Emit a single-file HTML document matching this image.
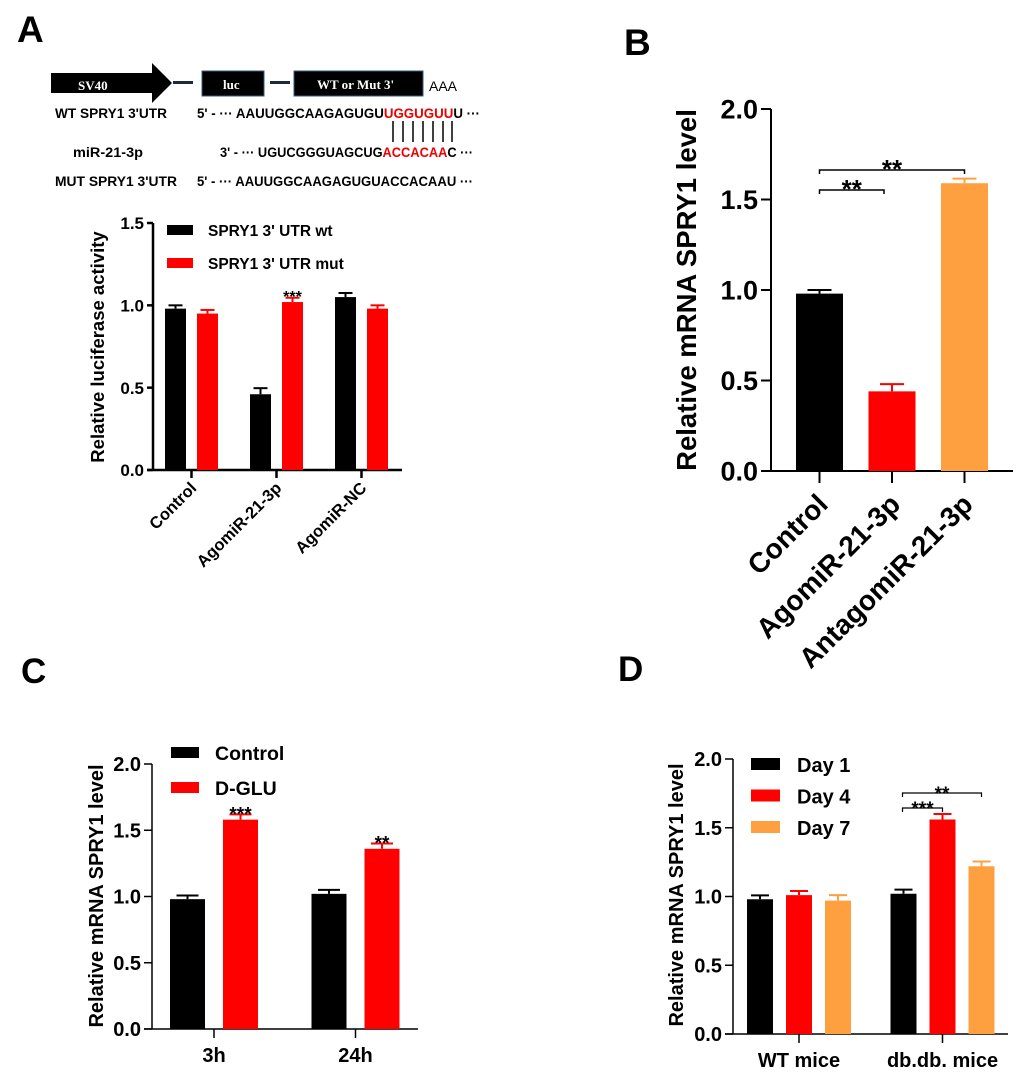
<!DOCTYPE html>
<html><head><meta charset="utf-8">
<style>
html,body{margin:0;padding:0;background:#fff;}
svg{display:block;font-family:"Liberation Sans",Arial,sans-serif;}
text{font-weight:bold;}
</style></head>
<body>
<svg id="fig" width="1020" height="1073" viewBox="0 0 1020 1073" xmlns="http://www.w3.org/2000/svg">
  <text x="17" y="42" font-size="37">A</text>
  <text x="624" y="55" font-size="37">B</text>
  <text x="21" y="683" font-size="35">C</text>
  <text x="618" y="681" font-size="35">D</text>

  <g>
    <polygon points="51,73 152,73 152,63 172,83 152,103 152,93 51,93" fill="#000"/>
    <text x="78" y="90" font-size="13" fill="#fff" font-family="Liberation Serif,serif">SV40</text>
    <rect x="173" y="81" width="20" height="3" fill="#1a2a3a"/>
    <rect x="202" y="71" width="62" height="25" fill="#000" stroke="#3a5a7a"/>
    <text x="223" y="89" font-size="13" fill="#fff" font-family="Liberation Serif,serif">luc</text>
    <rect x="270" y="81" width="20" height="3" fill="#1a2a3a"/>
    <rect x="294" y="71" width="129" height="25" fill="#000" stroke="#3a5a7a"/>
    <text x="317" y="89" font-size="13" fill="#fff" font-family="Liberation Serif,serif">WT or Mut 3'</text>
    <text x="429" y="91" font-size="14" style="font-weight:normal">AAA</text>
    <text x="55" y="118" font-size="13.5" textLength="112" lengthAdjust="spacingAndGlyphs">WT SPRY1 3'UTR</text>
    <text x="197" y="118" font-size="13.5" textLength="283" lengthAdjust="spacingAndGlyphs">5' - ··· AAUUGGCAAGAGUGU<tspan fill="#e00">UGGUGUU</tspan>U ···</text>
    <g stroke="#000" stroke-width="1.5">
      <line x1="393" y1="121" x2="393" y2="142"/><line x1="403" y1="121" x2="403" y2="142"/>
      <line x1="413" y1="121" x2="413" y2="142"/><line x1="423" y1="121" x2="423" y2="142"/>
      <line x1="433" y1="121" x2="433" y2="142"/><line x1="443" y1="121" x2="443" y2="142"/>
      <line x1="452" y1="121" x2="452" y2="142"/>
    </g>
    <text x="73" y="157" font-size="13.5" textLength="70" lengthAdjust="spacingAndGlyphs">miR-21-3p</text>
    <text x="220" y="157" font-size="13.5" textLength="253" lengthAdjust="spacingAndGlyphs">3' - ··· UGUCGGGUAGCUG<tspan fill="#e00">ACCACAA</tspan>C ···</text>
    <text x="55" y="186" font-size="13.5" textLength="122" lengthAdjust="spacingAndGlyphs">MUT SPRY1 3'UTR</text>
    <text x="197" y="186" font-size="13.5" textLength="276" lengthAdjust="spacingAndGlyphs">5' - ··· AAUUGGCAAGAGUGUACCACAAU ···</text>
  </g>
  <g id="charts"></g>
</svg>
<script>
// ---- Panel A data ----
const aCategories = ["Control", "AgomiR-21-3p", "AgomiR-NC"];
const aSeries = ["SPRY1 3' UTR wt", "SPRY1 3' UTR mut"];
const aWt = [0.98, 0.46, 1.05];
const aWtErr = [0.02, 0.037, 0.025];
const aMut = [0.95, 1.02, 0.98];
const aMutErr = [0.022, 0.026, 0.02];
const aTicks = [0, 0.5, 1.0, 1.5];
const aStars = ["", "***", ""];
// ---- Panel B data ----
const bCategories = ["Control", "AgomiR-21-3p", "AntagomiR-21-3p"];
const bValues = [0.98, 0.44, 1.59];
const bErr = [0.02, 0.04, 0.025];
const bTicks = [0, 0.5, 1.0, 1.5, 2.0];
// ---- Panel C data ----
const cCategories = ["3h", "24h"];
const cSeries = ["Control", "D-GLU"];
const cControl = [0.98, 1.02];
const cControlErr = [0.028, 0.03];
const cDglu = [1.58, 1.36];
const cDgluErr = [0.04, 0.04];
const cTicks = [0, 0.5, 1.0, 1.5, 2.0];
const cStars = ["***", "**"];
// ---- Panel D data ----
const dCategories = ["WT mice", "db.db. mice"];
const dSeries = ["Day 1", "Day 4", "Day 7"];
const dDay1 = [0.98, 1.02];
const dDay1Err = [0.028, 0.03];
const dDay4 = [1.01, 1.56];
const dDay4Err = [0.03, 0.04];
const dDay7 = [0.97, 1.22];
const dDay7Err = [0.04, 0.035];
const dTicks = [0, 0.5, 1.0, 1.5, 2.0];

const NS = "http://www.w3.org/2000/svg";
const root = document.getElementById("charts");
function mk(tag, attrs, parent, txt) {
  const e = document.createElementNS(NS, tag);
  for (const k in attrs) e.setAttribute(k, attrs[k]);
  if (txt !== undefined) e.textContent = txt;
  (parent || root).appendChild(e);
  return e;
}
function yScale(y0, yTop, vmax) { return v => y0 - (v / vmax) * (y0 - yTop); }

function axes(g, ax, y0, yTop, xEnd, ticks, vmax, fs, tickLen, sw, prefix) {
  const ys = yScale(y0, yTop, vmax);
  const yl = mk("line", {x1: ax, y1: y0, x2: ax, y2: yTop, stroke: "#000", "stroke-width": sw}, g);
  
  
  const xl = mk("line", {x1: ax - tickLen, y1: y0, x2: xEnd, y2: y0, stroke: "#000", "stroke-width": sw}, g);
  
  
  ticks.forEach(t => {
    const y = ys(t);
    const tl = mk("line", {x1: ax - tickLen, y1: y, x2: ax, y2: y, stroke: "#000", "stroke-width": sw}, g);
    
    
    const tx = mk("text", {x: ax - tickLen - 3, y: y + fs * 0.36, "font-size": fs, "text-anchor": "end"}, g, t.toFixed(1));
    
    
  });
  return ys;
}
function bar(g, x, w, v, err, ys, color, capW, sw, prefix) {
  const y0 = ys(0), yv = ys(v), ye = ys(v + err);
  const cx = x + w / 2;
  const el = mk("line", {x1: cx, y1: yv, x2: cx, y2: ye, stroke: color, "stroke-width": sw}, g);
  
  
  const cap = mk("line", {x1: cx - capW / 2, y1: ye, x2: cx + capW / 2, y2: ye, stroke: color, "stroke-width": sw}, g);
  
  
  const r = mk("rect", {x: x, y: yv, width: w, height: y0 - yv, fill: color}, g);
  
  
  return ye;
}

// ===== Panel A =====
(function(){
  const g = mk("g", {});
  
  
  const ys = axes(g, 153, 470, 223, 402, aTicks, 1.5, 17, 6, 2.5, "a");
  const groupStart = 165, groupStep = 85, bw = 21, gap = 32;
  const colors = ["#000", "#ff0000"];
  aCategories.forEach((c, i) => {
    const x0 = groupStart + i * groupStep;
    bar(g, x0, bw, aWt[i], aWtErr[i], ys, colors[0], 14, 2, "a-wt");
    const top = bar(g, x0 + gap, bw, aMut[i], aMutErr[i], ys, colors[1], 14, 2, "a-mut");
    if (aStars[i]) {
      const s = mk("text", {x: x0 + gap + bw / 2, y: top + 4, "font-size": 16, "text-anchor": "middle"}, g, aStars[i]);
      
      
    }
    const tk = x0 + (gap + bw) / 2;
    const tl = mk("line", {x1: tk, y1: 470, x2: tk, y2: 478, stroke: "#000", "stroke-width": 2.5}, g);
    
    
    const lx = tk + 6, ly = 489;
    const lab = mk("text", {x: lx, y: ly, "font-size": 16.5, "text-anchor": "end", transform: `rotate(-45 ${lx} ${ly})`}, g, c);
    
    
  });
  const yt = mk("text", {x: 0, y: 0, "font-size": 18.5, "text-anchor": "middle", transform: "translate(104 347) rotate(-90)"}, g, "Relative luciferase activity");
  
  
  aSeries.forEach((s, i) => {
    const r = mk("rect", {x: 167, y: 225 + i * 33, width: 26, height: 10, fill: colors[i]}, g);
    
    
    const t = mk("text", {x: 208, y: 236 + i * 33, "font-size": 15.5}, g, s);
    
    
  });
})();

// ===== Panel B =====
(function(){
  const g = mk("g", {});
  
  
  const ys = axes(g, 771, 471, 109, 1013, bTicks, 2.0, 27, 10, 2, "b");
  const colors = ["#000", "#ff0000", "#ffa040"];
  const start = 796, step = 72.5, bw = 47;
  const tickX = [];
  bCategories.forEach((c, i) => {
    const x = start + i * step;
    bar(g, x, bw, bValues[i], bErr[i], ys, colors[i], 24, 2, "b");
    const tk = x + bw / 2;
    tickX.push(tk);
    const tl = mk("line", {x1: tk, y1: 471, x2: tk, y2: 483, stroke: "#000", "stroke-width": 2}, g);
    
    
    const lx = tk + 10, ly = 506;
    const lab = mk("text", {x: lx, y: ly, "font-size": 28, "text-anchor": "end", transform: `rotate(-45 ${lx} ${ly})`}, g, c);
    
    
  });
  function bracket(x1, x2, y, label) {
    const p = mk("path", {d: `M${x1} ${y + 4} V${y} H${x2} V${y + 4}`, fill: "none", stroke: "#000", "stroke-width": 1.5}, g);
    
    
    const t = mk("text", {x: (x1 + x2) / 2, y: y + 8, "font-size": 26, "text-anchor": "middle"}, g, label);
    
    
  }
  bracket(tickX[0], 884, 190, "**");
  bracket(tickX[0], tickX[2], 170, "**");
  const yt = mk("text", {x: 0, y: 0, "font-size": 27.5, "text-anchor": "middle", transform: "translate(696 290) rotate(-90)"}, g, "Relative mRNA SPRY1 level");
  
  
})();

// ===== Panel C =====
(function(){
  const g = mk("g", {});
  
  
  const ys = axes(g, 152, 1029, 764, 418, cTicks, 2.0, 20, 8, 1.5, "c");
  const colors = ["#000", "#ff0000"];
  const start = 170, step = 141.5, bw = 35, gap = 53;
  cCategories.forEach((c, i) => {
    const x0 = start + i * step;
    bar(g, x0, bw, cControl[i], cControlErr[i], ys, colors[0], 22, 2, "c-control");
    const top = bar(g, x0 + gap, bw, cDglu[i], cDgluErr[i], ys, colors[1], 22, 2, "c-dglu");
    const s = mk("text", {x: x0 + gap + bw / 2, y: top + 6, "font-size": 19, "text-anchor": "middle"}, g, cStars[i]);
    
    
    const tk = x0 + (gap + bw) / 2;
    const tl = mk("line", {x1: tk, y1: 1029, x2: tk, y2: 1038, stroke: "#000", "stroke-width": 1.5}, g);
    
    
    const lab = mk("text", {x: tk, y: 1062, "font-size": 20, "text-anchor": "middle"}, g, c);
    
    
  });
  const yt = mk("text", {x: 0, y: 0, "font-size": 20, "text-anchor": "middle", transform: "translate(103 896) rotate(-90)"}, g, "Relative mRNA SPRY1 level");
  
  
  cSeries.forEach((s, i) => {
    const r = mk("rect", {x: 171, y: 747 + i * 35, width: 28, height: 11, fill: colors[i]}, g);
    
    
    const t = mk("text", {x: 215, y: 760 + i * 35, "font-size": 19.5}, g, s);
    
    
  });
})();

// ===== Panel D =====
(function(){
  const g = mk("g", {});
  
  
  const ys = axes(g, 733, 1034, 759, 1008, dTicks, 2.0, 20, 8, 1.5, "d");
  const colors = ["#000", "#ff0000", "#ffa040"];
  const series = [[dDay1, dDay1Err], [dDay4, dDay4Err], [dDay7, dDay7Err]];
  const start = 747, step = 143.5, bw = 26, gap = 39;
  dCategories.forEach((c, i) => {
    const x0 = start + i * step;
    series.forEach((s, j) => {
      bar(g, x0 + j * gap, bw, s[0][i], s[1][i], ys, colors[j], 18, 2, "d-day" + [1,4,7][j]);
    });
    const tk = x0 + gap + bw / 2;
    const tl = mk("line", {x1: tk, y1: 1034, x2: tk, y2: 1043, stroke: "#000", "stroke-width": 1.5}, g);
    
    
    const lab = mk("text", {x: tk, y: 1067, "font-size": 20, "text-anchor": "middle"}, g, c);
    
    
  });
  function bracket(x1, x2, y, label) {
    const p = mk("path", {d: `M${x1} ${y + 4} V${y} H${x2} V${y + 4}`, fill: "none", stroke: "#000", "stroke-width": 1.2}, g);
    
    
    const t = mk("text", {x: (x1 + x2) / 2, y: y + 7, "font-size": 19, "text-anchor": "middle"}, g, label);
    
    
  }
  const db = start + step;
  bracket(db + bw / 2 - 1, db + gap + bw / 2, 808, "***");
  bracket(db + bw / 2 - 1, db + 2 * gap + bw / 2, 793, "**");
  const yt = mk("text", {x: 0, y: 0, "font-size": 20, "text-anchor": "middle", transform: "translate(683 895) rotate(-90)"}, g, "Relative mRNA SPRY1 level");
  
  
  dSeries.forEach((s, i) => {
    const r = mk("rect", {x: 751, y: 758 + i * 31.5, width: 29, height: 12, fill: colors[i]}, g);
    
    
    const t = mk("text", {x: 797, y: 772 + i * 31.5, "font-size": 20}, g, s);
    
    
  });
})();
</script>
</body></html>
